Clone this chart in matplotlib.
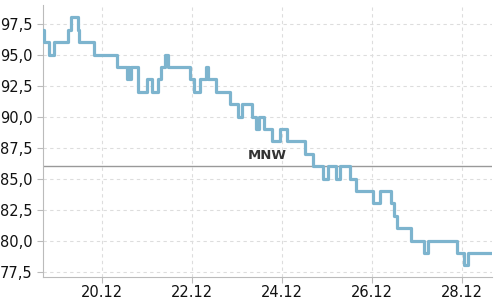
import matplotlib
matplotlib.use("Agg")
from matplotlib import pyplot as plt
import matplotlib.dates as mdates
from matplotlib.ticker import FuncFormatter
import numpy as np
import datetime as dt

# change points: hours after 20.12 00:00 and the value from that hour on
hours = [-31.3, -30.5, -28.1, -25.4, -17.8, -16.5, -12.5, -12.1, -4.1, 8.0,
         13.3, 14.0, 14.8, 15.6, 19.5, 24.0, 26.7, 30.2, 31.6, 33.8,
         35.5, 47.1, 49.4, 52.4, 55.6, 56.7, 60.8, 68.4, 72.9, 74.7,
         80.0, 82.3, 84.1, 86.7, 90.7, 95.1, 98.7, 108.4, 112.5, 118.2,
         120.5, 124.8, 127.1, 132.4, 135.6, 144.5, 148.4, 154.1, 156.1, 157.3,
         165.0, 171.9, 174.2, 189.6, 193.2, 195.5, 208.5]
values = [97, 96, 95, 96, 97, 98, 97, 96, 95, 94,
          93, 94, 93, 94, 92, 93, 92, 93, 94, 95,
          94, 93, 92, 93, 94, 93, 92, 91, 90, 91,
          90, 89, 90, 89, 88, 89, 88, 87, 86, 85,
          86, 85, 86, 85, 84, 83, 84, 83, 82, 81,
          80, 79, 80, 79, 78, 79, 79]
mnw = 86
base = dt.datetime(2023, 12, 20)
x_ticks = ["2023-12-20", "2023-12-22", "2023-12-24", "2023-12-26", "2023-12-28"]
y_ticks = [77.5, 80.0, 82.5, 85.0, 87.5, 90.0, 92.5, 95.0, 97.5]

times = [base + dt.timedelta(hours=h) for h in hours]

fig = plt.figure(figsize=(5, 3), dpi=100)
ax = fig.add_axes([0.086, 0.077, 0.898, 0.906])

ax.plot(times, values, drawstyle="steps-post", color="#7db4ce", lw=2.3, zorder=3)
ax.axhline(mnw, color="#999999", lw=1.0, zorder=2)
ax.text(base + dt.timedelta(hours=88.5), mnw + 0.35, "MNW", ha="center", va="bottom",
        fontsize=9.5, fontweight="bold", color="#333333", zorder=4)

ax.set_xlim(base + dt.timedelta(hours=-31.3), base + dt.timedelta(hours=208.2))
ax.set_ylim(77.07, 99.0)
ax.set_xticks([dt.datetime.fromisoformat(t) for t in x_ticks])
ax.xaxis.set_major_formatter(mdates.DateFormatter("%d.%m"))
ax.set_yticks(y_ticks)
ax.yaxis.set_major_formatter(FuncFormatter(lambda v, p: f"{v:.1f}".replace(".", ",")))

ax.grid(True, color="#dddddd", lw=0.8, linestyle=(0, (3, 3)), zorder=0)
for s in ["top", "right"]:
    ax.spines[s].set_visible(False)
for s in ["left", "bottom"]:
    ax.spines[s].set_color("#bbbbbb")
ax.tick_params(axis="both", colors="#bbbbbb", labelcolor="#111111", labelsize=10.5, length=4)
ax.tick_params(axis="x", pad=2)

fig.savefig("out.png", dpi=100)
